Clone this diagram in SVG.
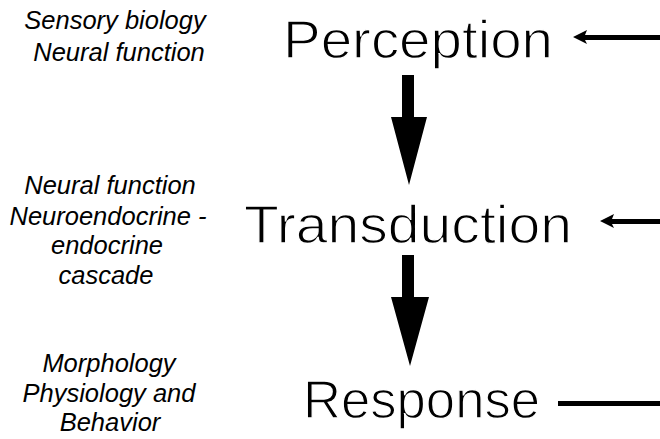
<svg xmlns="http://www.w3.org/2000/svg" width="660" height="439" viewBox="0 0 660 439">
<style>
.big{font-family:"Liberation Sans",Arial,sans-serif;font-size:54px;fill:#000;stroke:#fff;stroke-width:1.3px}
.lab{font-family:"Liberation Sans",Arial,sans-serif;font-size:25.5px;font-style:italic;fill:#000;text-anchor:middle}
.ar{fill:#000}
</style>
<rect width="660" height="439" fill="#fff"/>
<g id="perception"><text class="big" x="283" y="58" textLength="270" lengthAdjust="spacingAndGlyphs">Perception</text></g>
<g id="transduction"><text class="big" x="244" y="243" textLength="328" lengthAdjust="spacingAndGlyphs">Transduction</text></g>
<g id="response"><text class="big" x="303" y="418" textLength="237" lengthAdjust="spacingAndGlyphs">Response</text></g>
<g id="label-perception">
<text class="lab" x="115" y="29">Sensory biology</text>
<text class="lab" x="119" y="61">Neural function</text>
</g>
<g id="label-transduction">
<text class="lab" x="110" y="194">Neural function</text>
<text class="lab" x="108" y="225">Neuroendocrine -</text>
<text class="lab" x="107" y="254">endocrine</text>
<text class="lab" x="106" y="284">cascade</text>
</g>
<g id="label-response">
<text class="lab" x="109" y="372">Morphology</text>
<text class="lab" x="109" y="402">Physiology and</text>
<text class="lab" x="110" y="431">Behavior</text>
</g>
<g id="connectors">
<polygon class="ar" points="402,75 414,75 414,117 427,117 409,185 391,117 402,117"/>
<polygon class="ar" points="402,255 414,255 414,297 429,297 410,366 391,297 402,297"/>
<polygon class="ar" points="573,37 587,30 585,35 660,35 660,40 585,40 587,44"/>
<polygon class="ar" points="600,221 614,214 612,219 660,219 660,224 612,224 614,228"/>
<rect class="ar" x="558" y="401" width="102" height="5"/>
</g>
</svg>
